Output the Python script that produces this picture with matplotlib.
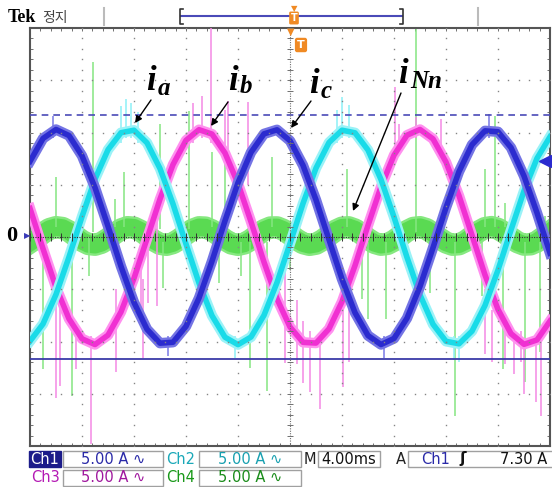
import matplotlib
matplotlib.use("Agg")
import matplotlib.pyplot as plt
from matplotlib.patches import Rectangle
import numpy as np

W, H = 552, 487

# scope capture: 4 ms/div, 5 A/div
t_ms = list(range(0, 41))
ch1_ic = [7.24, 9.43, 10.29, 9.71, 7.77, 4.73, 1.03, -2.81, -6.26, -8.83, -10.16,
          -10.07, -8.55, -5.84, -2.31, 1.55, 5.19, 8.10, 9.87, 10.26, 9.21, 6.86,
          3.55, -0.26, -4.03, -7.24, -9.43, -10.29, -9.71, -7.77, -4.73, -1.03,
          2.81, 6.26, 8.83, 10.16, 10.07, 8.55, 5.84, 2.31, -1.55]
ch2_ia = [-9.97, -8.32, -5.50, -1.91, 1.95, 5.54, 8.35, 9.98, 10.22, 9.01, 6.55,
          3.16, -0.67, -4.41, -7.53, -9.59, -10.30, -9.57, -7.49, -4.36, -0.62,
          3.21, 6.59, 9.04, 10.22, 9.97, 8.32, 5.50, 1.91, -1.95, -5.54, -8.35,
          -9.98, -10.22, -9.01, -6.55, -3.16, 0.67, 4.41, 7.53, 9.59]
ch3_ib = [2.73, -1.12, -4.81, -7.83, -9.74, -10.29, -9.39, -7.17, -3.95, -0.17,
          3.63, 6.93, 9.25, 10.27, 9.85, 8.04, 5.11, 1.46, -2.40, -5.92, -8.61,
          -10.08, -10.15, -8.79, -6.19, -2.73, 1.12, 4.81, 7.83, 9.74, 10.29,
          9.39, 7.17, 3.95, 0.17, -3.63, -6.93, -9.25, -10.27, -9.85, -8.04]

t_half_ms = np.arange(0, 40.5, 0.5)
ch4_iNn = [-0.52, -0.10, 0.38, 0.77, 0.95, 0.87, 0.55, 0.09, -0.37, -0.68, -0.75,
           -0.56, -0.16, 0.32, 0.73, 0.95, 0.90, 0.60, 0.14, -0.32, -0.66, -0.76,
           -0.59, -0.21, 0.27, 0.70, 0.94, 0.91, 0.64, 0.20, -0.28, -0.63, -0.76,
           -0.62, -0.26, 0.22, 0.66, 0.92, 0.93, 0.68, 0.25, -0.23, -0.60, -0.76,
           -0.65, -0.30, 0.16, 0.61, 0.90, 0.94, 0.72, 0.30, -0.18, -0.57, -0.75,
           -0.67, -0.35, 0.11, 0.57, 0.88, 0.95, 0.76, 0.36, -0.12, -0.53, -0.75,
           -0.70, -0.40, 0.06, 0.52, 0.86, 0.96, 0.79, 0.41, -0.07, -0.50, -0.74,
           -0.71, -0.44, 0.00, 0.48]

# switching spikes: (time ms, low A, high A)
green_spikes = [(1.0, -12.6, -0.5), (2.0, 1.0, 5.7), (3.2, -15.2, -0.5), (4.5, -3.7, 0.0),
                (4.85, 0.5, 16.7), (6.5, 1.0, 3.6), (7.2, 1.0, 6.2), (10.0, 0.8, 10.8),
                (10.2, -4.9, -0.5), (12.2, 0.8, 12.1), (14.0, 1.0, 8.1), (14.5, -4.4, -0.5),
                (15.0, 1.0, 7.8), (16.2, -3.7, -0.5), (16.9, -12.5, -0.5), (18.2, -14.7, -0.5),
                (18.6, 1.0, 7.7), (20.0, -3.2, 0.0), (24.4, 1.0, 6.5), (25.5, -5.9, -0.5),
                (26.0, -7.8, -0.5), (27.4, -7.8, -0.5), (29.7, 0.5, 20.0), (30.8, -5.4, -0.5),
                (32.7, -17.1, -0.5), (34.8, -5.6, -0.5), (35.0, 1.0, 6.5), (35.8, 1.0, 11.6),
                (36.4, -12.6, -0.5), (36.5, 1.0, 3.3), (38.1, -13.9, -0.5), (39.2, -11.0, -0.5),
                (39.6, 1.0, 2.0)]
magenta_spikes = [(2.0, -15.4, -5.0), (2.3, -14.3, -6.0), (3.5, -12.6, -8.0), (4.7, -19.8, -9.5),
                  (6.6, -12.9, -5.0), (8.5, -7.8, -2.0), (8.7, -11.6, -4.0), (9.1, -6.3, 0.0),
                  (9.8, -6.6, 2.0), (12.5, 9.0, 12.8), (13.2, 9.5, 13.5), (13.9, 9.0, 20.0),
                  (15.0, 8.0, 12.2), (15.2, 7.5, 13.0), (16.8, 5.0, 12.9), (19.6, -12.1, -3.0),
                  (20.5, -12.2, -6.0), (21.0, -14.0, -8.0), (21.5, -14.8, -9.0), (22.3, -16.5, -9.5),
                  (24.1, -14.4, -6.0), (24.5, -12.0, -5.0), (28.1, 8.0, 14.4), (28.4, 9.0, 10.8),
                  (29.7, 9.5, 11.5), (31.6, 8.5, 11.3), (35.0, -11.2, -5.0), (35.5, -12.0, -7.0),
                  (36.5, -12.2, -8.0), (37.2, -13.1, -9.0), (37.8, -12.0, -9.0), (38.0, -15.0, -10.0),
                  (38.9, -15.8, -9.5), (39.3, -17.1, -9.0)]
cyan_spikes = [(7.0, 9.0, 12.5), (7.4, 9.5, 13.2), (7.8, 9.5, 12.8), (8.3, 9.0, 12.0),
               (23.6, 9.0, 12.2), (24.0, 9.5, 13.4), (24.5, 9.5, 12.6), (15.8, -11.6, -9.5),
               (32.6, -11.8, -9.5), (33.0, -12.0, -9.5)]
blue_spikes = [(1.8, 9.5, 11.6), (35.3, 9.5, 11.8), (10.6, -11.4, -9.5), (27.2, -11.6, -9.5)]

cursor_hi, cursor_lo = 11.7, -11.7
trig_level = 7.3

# status bar
ch_names = ["Ch1", "Ch2", "Ch3", "Ch4"]
ch_scales = ["5.00 A \u223f"] * 4
timebase = "4.00ms"
trig_text = "7.30 A"

BLUE, CYAN, MAG, GREEN = "#2b2bcf", "#19dbe8", "#f030d2", "#5ada52"
ORANGE = "#f08a24"


def fx(x):
    return x / W


def fy(y):
    return 1 - y / H


fig = plt.figure(figsize=(W / 100, H / 100), dpi=100)
ax = fig.add_axes([fx(30), fy(446), 520 / W, 418 / H])
ax.set_xlim(0, 40)
ax.set_ylim(-20, 20)
ax.set_xticks([])
ax.set_yticks([])
for s in ax.spines.values():
    s.set_color("#555555")
    s.set_linewidth(1.5)

# graticule, drawn over the traces like the scope does
minor_y = np.arange(-20, 20.1, 1.0)
minor_x = np.arange(0, 40.1, 0.8)
for gx in [4, 8, 12, 16, 24, 28, 32, 36]:
    ax.plot([gx] * len(minor_y), minor_y, ls="none", marker="s", ms=1.0, mew=0,
            color="#858585", zorder=8)
for gy in [-15, -10, -5, 5, 10, 15]:
    ax.plot(minor_x, [gy] * len(minor_x), ls="none", marker="s", ms=1.0, mew=0,
            color="#858585", zorder=8)
ax.axhline(0, ls=(0, (1, 1.2)), lw=0.8, color="#333333", zorder=8)
ax.axvline(20, ls=(0, (1, 1.2)), lw=0.8, color="#707070", zorder=8)
ax.hlines(minor_y, 19.8, 20.2, color="#707070", lw=0.7, zorder=8)
ax.vlines(minor_x, -0.35, 0.35, color="#333333", lw=0.7, zorder=8)
ax.hlines(minor_y, 0, 0.25, color="#707070", lw=0.7)
ax.hlines(minor_y, 39.75, 40, color="#707070", lw=0.7)
ax.vlines(minor_x, -20, -19.7, color="#707070", lw=0.7)
ax.vlines(minor_x, 19.7, 20, color="#707070", lw=0.7)


def spikes(lst, color, z):
    ax.vlines([s[0] for s in lst], [s[1] for s in lst], [s[2] for s in lst],
              color=color, lw=1.3, alpha=0.85, zorder=z)


def trace(x, y, core, halo, lw_halo, lw_core, z):
    ax.plot(x, y, color=halo, lw=lw_halo, solid_joinstyle="round", zorder=z)
    ax.plot(x, y, color=core, lw=lw_core, solid_joinstyle="round", zorder=z + 0.1)


trace(t_half_ms, ch4_iNn, GREEN, "#86e880", 16, 12.5, 2)
spikes(green_spikes, "#86e682", 2.5)
spikes(magenta_spikes, "#f48ae4", 2.6)
trace(t_ms, ch3_ib, MAG, "#ff90ef", 7.5, 4, 3)
spikes(cyan_spikes, "#8ef0f6", 3.6)
trace(t_ms, ch2_ia, CYAN, "#9af2f7", 7.5, 4, 4)
spikes(blue_spikes, "#7a7ae6", 4.6)
trace(t_ms, ch1_ic, BLUE, "#7474e4", 7.5, 4, 5)

ax.axhline(cursor_hi, color="#4a4ab8", lw=1.2, ls=(0, (4, 3)), zorder=7)
ax.axhline(cursor_lo, color="#3a3aa8", lw=1.3, zorder=7)
ax.plot([39.6], [trig_level], marker="<", ms=8, color=BLUE, zorder=9, clip_on=False)

# left zero marker
fig.text(fx(6), fy(236), "0", fontsize=16, family="Liberation Serif", weight="bold",
         va="center", ha="left")
fig.text(fx(24), fy(236), "\u25b6", fontsize=6, color="#3a3ab8", va="center", ha="left")

# trace labels with arrows
labels = [("i", "a", 146, 90, 95, (151, 100), (135, 123)),
          ("i", "b", 228, 90, 93, (228, 102), (211, 126)),
          ("i", "c", 309, 93, 98, (311, 101), (291, 128)),
          ("i", "Nn", 398, 83, 88, (401, 93), (353, 211))]
for main, sub, lx, base, sbase, p0, p1 in labels:
    fig.text(fx(lx), fy(base), main, fontsize=25, family="Liberation Serif",
             weight="bold", style="italic", va="baseline", ha="left")
    fig.text(fx(lx + 12), fy(sbase), sub, fontsize=18, family="Liberation Serif",
             weight="bold", style="italic", va="baseline", ha="left")
    ax.annotate("", xy=(p1[0], H - p1[1]), xytext=(p0[0], H - p0[1]),
                xycoords="figure pixels", textcoords="figure pixels",
                arrowprops=dict(arrowstyle="-|>", color="black", lw=1.0,
                                mutation_scale=10, shrinkA=0, shrinkB=0),
                annotation_clip=False, zorder=10)

# top bar
fig.text(fx(8), fy(22), "Tek", fontsize=13, family="Liberation Serif", weight="bold",
         va="baseline", ha="left")
fig.text(fx(42), fy(22), "\uc815\uc9c0", fontsize=10, family="Noto Sans CJK KR",
         color="#444444", va="baseline", ha="left")
for bx in (104, 478):
    fig.add_artist(plt.Line2D([fx(bx), fx(bx)], [fy(8), fy(25)], color="#bbbbbb", lw=1.5))
fig.add_artist(plt.Line2D([fx(181), fx(402)], [fy(16), fy(16)], color="#4a4ab8", lw=1.5))
for bx, d in ((180, 1), (403, -1)):
    fig.add_artist(plt.Line2D([fx(bx + 3 * d), fx(bx), fx(bx), fx(bx + 3 * d)],
                              [fy(9), fy(9), fy(24), fy(24)], color="#333333", lw=1.2))
fig.text(fx(294), fy(9), "\u25bc", fontsize=6, color=ORANGE, ha="center", va="center")
fig.text(fx(294), fy(18), "T", fontsize=7, color="white", weight="bold", ha="center", va="center",
         bbox=dict(boxstyle="round,pad=0.15", fc=ORANGE, ec="none"))
fig.text(fx(291), fy(32), "\u25bc", fontsize=7, color=ORANGE, ha="center", va="center")
fig.text(fx(301), fy(45), "T", fontsize=8, color="white", weight="bold", ha="center", va="center",
         bbox=dict(boxstyle="round,pad=0.2", fc=ORANGE, ec="none"), zorder=10)


# status bar
def box(x0, y0, x1, y1, fc="none", ec="#a0a0a0"):
    fig.add_artist(Rectangle((fx(x0), fy(y1)), (x1 - x0) / W, (y1 - y0) / H,
                             transform=fig.transFigure, fc=fc, ec=ec, lw=1))


def stext(x, y, s, color, ha="center"):
    fig.text(fx(x), fy(y), s, fontsize=10.5, family="DejaVu Sans", color=color,
             ha=ha, va="center")


row_y = [(451, 467), (470, 486)]
name_cols = ["#ffffff", "#1aa8b8", "#b41ab4", "#189818"]
val_cols = ["#2a2aa8", "#18a0b0", "#a0189e", "#1a8c1a"]
for i in range(4):
    r = row_y[i // 2]
    yc = (r[0] + r[1]) / 2
    nx0 = 29 if i % 2 == 0 else 165
    vx0, vx1 = (63, 163) if i % 2 == 0 else (199, 301)
    if i == 0:
        box(29, r[0], 61, r[1], fc="#1c1c8a", ec="#1c1c8a")
    stext(nx0 + 16, yc, ch_names[i], name_cols[i])
    box(vx0, r[0], vx1, r[1])
    stext((vx0 + vx1) / 2, yc, ch_scales[i], val_cols[i])

y1c = 459
stext(310, y1c, "M", "#222222")
box(318, 451, 380, 467)
stext(349, y1c, timebase, "#111111")
stext(401, y1c, "A", "#222222")
box(408, 451, 560, 467)
stext(436, y1c, "Ch1", val_cols[0])
fig.text(fx(463), fy(y1c), "\u0283", fontsize=11, family="DejaVu Sans", weight="bold",
         color="#111111", ha="center", va="center")
stext(500, y1c, trig_text, "#111111", ha="left")

fig.savefig("out.png", dpi=100)
